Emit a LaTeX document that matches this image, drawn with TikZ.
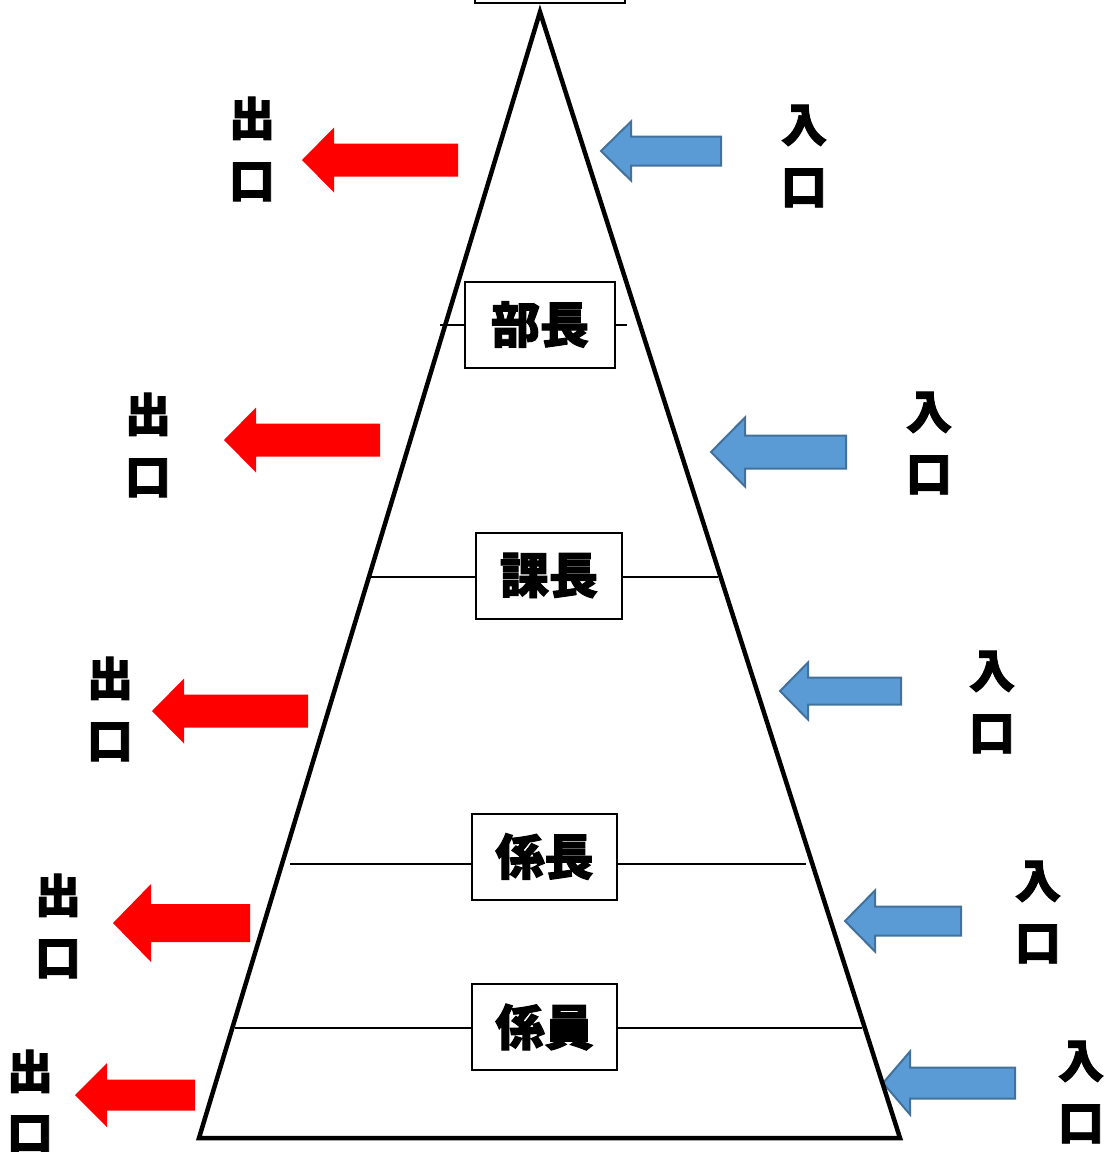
\documentclass[tikz,border=0pt]{standalone}
\usepackage{fontspec}
\newfontfamily\cjk{Noto Sans CJK JP}[BoldFeatures={FakeBold=2}]
\begin{document}
\begin{tikzpicture}[x=1pt,y=-1pt,
  tri/.style={line width=4.5pt,line join=miter},
  level/.style={line width=1.2pt},
  rank/.style={draw,line width=2pt,fill=white,minimum width=150pt,minimum height=86pt,inner sep=0pt,font=\cjk\bfseries\fontsize{49}{50}\selectfont},
  lbl/.style={align=center,inner sep=0pt,font=\cjk\bfseries\fontsize{46}{62}\selectfont},
  outarrow/.style={fill=red,draw=none},
  inarrow/.style={fill=inblue,draw=inborder,line width=2pt,line join=miter}]
\definecolor{inblue}{HTML}{5B9BD5}
\definecolor{inborder}{HTML}{41719C}
\newcommand{\mkarrow}[7]{%
  \draw[#1] (#2,#3) -- (#4,#3-#7) -- (#4,#3-#6) -- (#5,#3-#6) -- (#5,#3+#6) -- (#4,#3+#6) -- (#4,#3+#7) -- cycle;}
\useasboundingbox (0,0) rectangle (1108,1152);
\clip (0,0) rectangle (1108,1152);
% arrows (exits, red)
\mkarrow{outarrow}{302}{160}{334}{458}{16.5}{32.5}
\mkarrow{outarrow}{224}{440}{256}{380}{16.5}{32.5}
\mkarrow{outarrow}{152}{711}{184}{308}{16.5}{32.5}
\mkarrow{outarrow}{113}{923}{151}{250}{19}{39}
\mkarrow{outarrow}{75}{1095}{107}{195}{15.5}{32}
% arrows (entries, blue)
\mkarrow{inarrow}{601}{151}{631}{721}{14.5}{29.5}
\mkarrow{inarrow}{711}{452}{745}{846}{16.5}{34.5}
\mkarrow{inarrow}{780}{691}{808}{901}{13.5}{28.5}
\mkarrow{inarrow}{845}{921}{875}{961}{14.5}{30.5}
\mkarrow{inarrow}{883}{1083}{910}{1015}{15.5}{31.5}
% rank boxes
\node[rank] (top) at (549.5,-40) {};
\node[rank] (bucho) at (540,324.5) {部長};
\node[rank,minimum width=146pt] (kacho) at (549,575.5) {課長};
\node[rank,minimum width=145pt] (kakaricho) at (544.5,856.5) {係長};
\node[rank,minimum width=145pt] (kakariin) at (544.5,1027) {係員};
% level lines
\coordinate (l1) at (440,325); \coordinate (r1) at (627,325);
\coordinate (l2) at (371,577); \coordinate (r2) at (718,577);
\coordinate (l3) at (290,864); \coordinate (r3) at (806,864);
\coordinate (l4) at (235,1028); \coordinate (r4) at (862,1028);
\draw[level] (l1) -- (l1 -| bucho.west) (bucho.east |- r1) -- (r1);
\draw[level] (l2) -- (l2 -| kacho.west) (kacho.east |- r2) -- (r2);
\draw[level] (l3) -- (l3 -| kakaricho.west) (kakaricho.east |- r3) -- (r3);
\draw[level] (l4) -- (l4 -| kakariin.west) (kakariin.east |- r4) -- (r4);
% pyramid
\coordinate (apex) at (540,12);
\coordinate (bl) at (199,1138);
\coordinate (br) at (900,1138);
\draw[tri] (apex) -- (bl) -- (br) -- cycle;
% labels
\node[lbl] (out1) at (252,149) {出\\口};
\node[lbl] (out2) at (148,445) {出\\口};
\node[lbl] (out3) at (110,709) {出\\口};
\node[lbl] (out4) at (58,926) {出\\口};
\node[lbl] (out5) at (30,1102) {出\\口};
\node[lbl] (in1) at (804,156) {入\\口};
\node[lbl] (in2) at (929,443) {入\\口};
\node[lbl] (in3) at (992,702) {入\\口};
\node[lbl] (in4) at (1038,912) {入\\口};
\node[lbl] (in5) at (1081,1092) {入\\口};
\end{tikzpicture}
\end{document}
